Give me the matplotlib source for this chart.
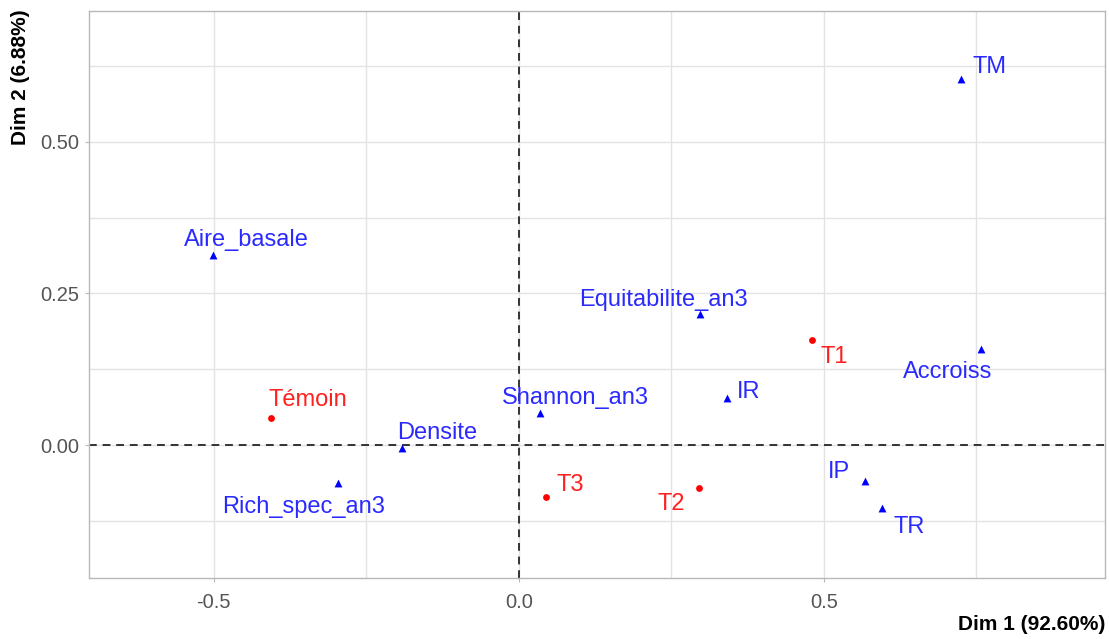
import numpy as np
import matplotlib.pyplot as plt
from matplotlib.ticker import MultipleLocator

# PCA coordinates - variables (blue) and individuals (red)
var_names = ['TM', 'Aire_basale', 'Equitabilite_an3', 'Accroiss', 'IR',
             'Shannon_an3', 'Densite', 'Rich_spec_an3', 'IP', 'TR']
var_x = [0.725, -0.502, 0.297, 0.758, 0.341, 0.035, -0.192, -0.296, 0.568, 0.596]
var_y = [0.603, 0.313, 0.216, 0.158, 0.077, 0.053, -0.005, -0.062, -0.059, -0.103]

ind_names = ['Témoin', 'T1', 'T3', 'T2']
ind_x = [-0.406, 0.481, 0.045, 0.296]
ind_y = [0.044, 0.173, -0.086, -0.070]

# label offsets in pixels (dx right, dy up)
var_off = [(29, 12), (34, 15), (-37, 14), (-34, -23), (22, 6),
           (35, 15), (36, 15), (-35, -24), (-26, 9), (27, -19)]
ind_off = [(37, 18), (22, -17), (24, 12), (-28, -16)]

plt.rcParams['font.family'] = ['Liberation Sans', 'DejaVu Sans']

fig = plt.figure(figsize=(11.09, 6.39), dpi=100)
ax = fig.add_axes([89/1109, 61/639, 1016/1109, 567/639])

ax.set_xlim(-0.7046, 0.961)
ax.set_ylim(-0.219, 0.7155)

ax.xaxis.set_major_locator(MultipleLocator(0.5))
ax.xaxis.set_minor_locator(MultipleLocator(0.25))
ax.yaxis.set_major_locator(MultipleLocator(0.25))
ax.yaxis.set_minor_locator(MultipleLocator(0.125))
ax.grid(which='both', color='#e3e3e3', linewidth=1.0)
ax.set_axisbelow(True)
for s in ax.spines.values():
    s.set_color('#b8b8b8')
    s.set_linewidth(1.0)

ax.set_xticks([-0.5, 0.0, 0.5])
ax.set_xticklabels(['-0.5', '0.0', '0.5'])
ax.set_yticks([0.0, 0.25, 0.5])
ax.set_yticklabels(['0.00', '0.25', '0.50'])
ax.tick_params(which='major', length=3, color='#b8b8b8', labelcolor='#555555',
               labelsize=14.5)
ax.tick_params(axis='x', pad=8)
ax.tick_params(axis='y', pad=4)
ax.tick_params(which='minor', length=0)

ax.axhline(0, color='#333333', linestyle=(0, (4, 3)), linewidth=1.4, zorder=2)
ax.axvline(0, color='#333333', linestyle=(0, (4, 3)), linewidth=1.4, zorder=2)

ax.scatter(var_x, var_y, marker='^', s=32, color='blue', zorder=3, linewidths=0)
ax.scatter(ind_x, ind_y, marker='o', s=24, color='red', zorder=3, linewidths=0)

px = 72 / 100
for name, x, y, (dx, dy) in zip(var_names, var_x, var_y, var_off):
    ax.annotate(name, (x, y), xytext=(dx * px, dy * px), textcoords='offset points',
                ha='center', va='center', color='#2a2aff', fontsize=17)
for name, x, y, (dx, dy) in zip(ind_names, ind_x, ind_y, ind_off):
    ax.annotate(name, (x, y), xytext=(dx * px, dy * px), textcoords='offset points',
                ha='center', va='center', color='#ff2020', fontsize=17)

fig.text(1105/1109, 1 - 625/639, 'Dim 1 (92.60%)', ha='right', va='center',
         fontsize=15, fontweight='bold')
fig.text(21/1109, 1 - 9/639, 'Dim 2 (6.88%)', ha='center', va='top',
         rotation=90, fontsize=15, fontweight='bold')

fig.savefig('out.png', dpi=100, facecolor='white')
